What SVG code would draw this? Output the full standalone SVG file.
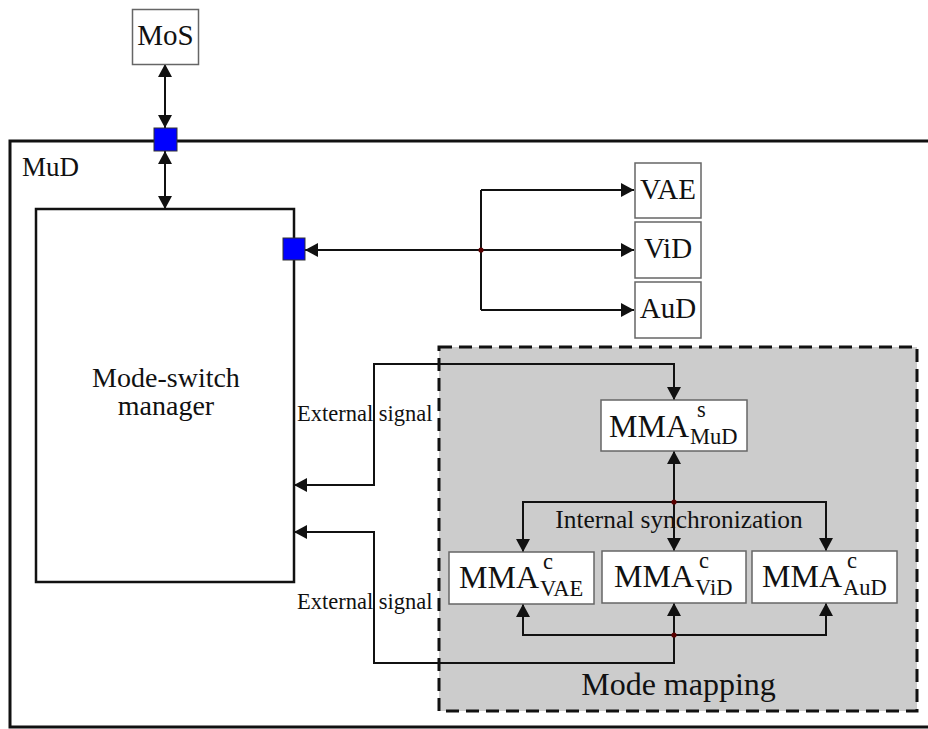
<svg xmlns="http://www.w3.org/2000/svg" width="928" height="729" viewBox="0 0 928 729">
<style>
text{font-family:"Liberation Serif","Times New Roman",serif;fill:#111}
.box{fill:#fff;stroke:#666;stroke-width:1.5}
.port{fill:#0000ff;stroke:#333;stroke-width:1}
.con{fill:none;stroke:#111;stroke-width:2}
.dot{fill:#5a0000}
.big{font-size:29px}
.mma{font-size:32px}
.ss{font-size:22.5px}
.lbl{font-size:22.5px}
</style>
<defs>
<marker id="ah" viewBox="0 0 13 14" refX="13" refY="7" markerWidth="13" markerHeight="14" markerUnits="userSpaceOnUse" orient="auto-start-reverse">
<path d="M0,0 L13,7 L0,14 z" fill="#111"/>
</marker>
</defs>
<rect width="928" height="729" fill="#fff"/>
<g id="MuD">
<path d="M928,141 H10 V727 H928" fill="none" stroke="#111" stroke-width="3"/>
<text x="22" y="176" style="font-size:27px">MuD</text>
</g>
<g id="mode-mapping">
<rect x="439" y="347" width="478" height="364" fill="#cccccc" stroke="#111" stroke-width="3" stroke-dasharray="13 7"/>
<text x="678.5" y="695" text-anchor="middle" style="font-size:32px">Mode mapping</text>
</g>
<g id="connectors">
<line class="con" x1="165" y1="64" x2="165" y2="128" marker-start="url(#ah)" marker-end="url(#ah)"/>
<line class="con" x1="165" y1="151" x2="165" y2="209" marker-start="url(#ah)" marker-end="url(#ah)"/>
<path class="con" d="M481,250 H305" marker-end="url(#ah)"/>
<path class="con" d="M481,190 V310"/>
<path class="con" d="M481,190 H634" marker-end="url(#ah)"/>
<path class="con" d="M481,250 H634" marker-end="url(#ah)"/>
<path class="con" d="M481,310 H634" marker-end="url(#ah)"/>
<circle class="dot" cx="481" cy="250" r="2.6"/>
<path class="con" d="M294,485 H374 V364 H674 V400" marker-start="url(#ah)" marker-end="url(#ah)"/>
<path class="con" d="M294,532 H374 V663 H674 V603" marker-start="url(#ah)" marker-end="url(#ah)"/>
<path class="con" d="M674,451 V551" marker-start="url(#ah)" marker-end="url(#ah)"/>
<path class="con" d="M523,552 V502 H826 V551" marker-start="url(#ah)" marker-end="url(#ah)"/>
<path class="con" d="M523,604 V635 H826 V603" marker-start="url(#ah)" marker-end="url(#ah)"/>
<circle class="dot" cx="674" cy="502" r="2.6"/>
<circle class="dot" cx="674" cy="635" r="2.6"/>
</g>
<g id="labels">
<text class="lbl" x="297" y="421">External signal</text>
<text class="lbl" x="297" y="609">External signal</text>
<text x="679" y="528" text-anchor="middle" style="font-size:25.4px">Internal synchronization</text>
</g>
<g id="MoS">
<rect class="box" x="132.5" y="9.5" width="66" height="55" stroke="#777"/>
<text class="big" x="165.5" y="45" text-anchor="middle">MoS</text>
</g>
<g id="manager">
<rect x="36" y="209" width="258" height="373" fill="#fff" stroke="#111" stroke-width="2.5"/>
<text x="166" y="387" text-anchor="middle" style="font-size:28px">Mode-switch</text>
<text x="166" y="415" text-anchor="middle" style="font-size:28px">manager</text>
</g>
<g id="port-top"><rect class="port" x="154" y="128" width="23" height="23"/></g>
<g id="port-right"><rect class="port" x="283" y="238" width="22" height="22"/></g>
<g id="VAE">
<rect class="box" x="635" y="163" width="66" height="55"/>
<text class="big" x="668" y="199" text-anchor="middle">VAE</text>
</g>
<g id="ViD">
<rect class="box" x="635" y="222" width="66" height="56"/>
<text class="big" x="668" y="258" text-anchor="middle">ViD</text>
</g>
<g id="AuD">
<rect class="box" x="635" y="282" width="66" height="56"/>
<text class="big" x="668" y="318" text-anchor="middle">AuD</text>
</g>
<g id="MMA-s-MuD">
<rect class="box" x="601" y="400" width="146" height="51" stroke="#333"/>
<text class="mma" x="609" y="437">MMA</text>
<text class="ss" x="697" y="417">s</text>
<text class="ss" x="690" y="444">MuD</text>
</g>
<g id="MMA-c-VAE">
<rect class="box" x="449" y="552" width="145" height="52" stroke="#333"/>
<text class="mma" x="459" y="588">MMA</text>
<text class="ss" x="543" y="569">c</text>
<text class="ss" x="540" y="596">VAE</text>
</g>
<g id="MMA-c-ViD">
<rect class="box" x="602" y="551" width="144" height="52" stroke="#333"/>
<text class="mma" x="614" y="587">MMA</text>
<text class="ss" x="699" y="568">c</text>
<text class="ss" x="695" y="595">ViD</text>
</g>
<g id="MMA-c-AuD">
<rect class="box" x="752" y="551" width="145" height="52" stroke="#333"/>
<text class="mma" x="762" y="587">MMA</text>
<text class="ss" x="847" y="568">c</text>
<text class="ss" x="843" y="595">AuD</text>
</g>
</svg>
